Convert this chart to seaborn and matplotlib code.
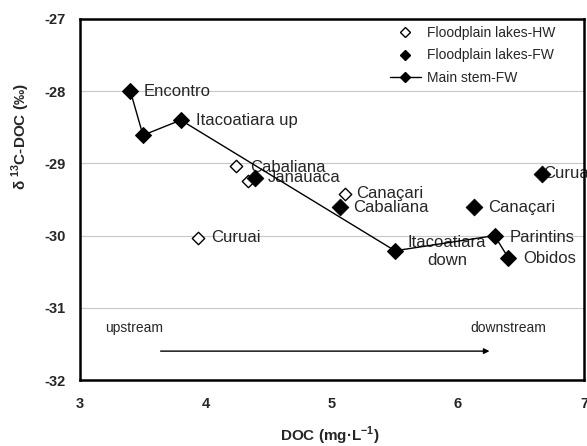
import matplotlib
matplotlib.use("Agg")
import matplotlib.pyplot as plt
from matplotlib.lines import Line2D
import seaborn as sns
import pandas as pd

# --- data ---
hw_names = ["Cabaliana", "Janauaca", "Canaçari", "Curuai"]
hw_doc = [4.24, 4.33, 5.10, 3.94]
hw_d13c = [-29.04, -29.24, -29.42, -30.03]

fw_names = ["Janauaca", "Cabaliana", "Canaçari", "Curuai"]
fw_doc = [4.39, 5.06, 6.13, 6.67]
fw_d13c = [-29.20, -29.61, -29.61, -29.14]

ms_names = ["Encontro", "", "Itacoatiara up", "Itacoatiara\ndown", "Parintins", "Obidos"]
ms_doc = [3.40, 3.50, 3.80, 5.50, 6.29, 6.40]
ms_d13c = [-28.00, -28.61, -28.40, -30.21, -30.00, -30.31]

# label offsets in pixels (dx, dy)
hw_off = [(14, -1), None, (12, 0), (13, 0)]
fw_off = [(13, 0), (14, 0), (14, 0), (1, 0)]
ms_off = [(13, 0), None, (15, 0), (52, -1), (15, -2), (15, -1)]

sns.set_style("white")
plt.rcParams['font.family'] = ['Liberation Sans', 'DejaVu Sans']
plt.rcParams['axes.unicode_minus'] = False
plt.rcParams['mathtext.fontset'] = 'custom'
plt.rcParams['mathtext.rm'] = 'Liberation Sans'
plt.rcParams['mathtext.bf'] = 'Liberation Sans:bold'

df_hw = pd.DataFrame({'doc': hw_doc, 'd13c': hw_d13c, 'name': hw_names})
df_fw = pd.DataFrame({'doc': fw_doc, 'd13c': fw_d13c, 'name': fw_names})
df_ms = pd.DataFrame({'doc': ms_doc, 'd13c': ms_d13c, 'name': ms_names})

fig = plt.figure(figsize=(5.87, 4.46), dpi=100)
ax = fig.add_axes([80 / 587, 1 - 380 / 446, 504 / 587, 361 / 446])

sns.lineplot(data=df_ms, x='doc', y='d13c', sort=False, estimator=None, ax=ax,
             color='black', linewidth=1.0, marker='D', markersize=8.6,
             markeredgecolor='black', markerfacecolor='black', zorder=4)
sns.scatterplot(data=df_hw, x='doc', y='d13c', ax=ax, marker='D', s=40,
                facecolor='white', edgecolor='black', linewidth=1.0, zorder=3)
sns.scatterplot(data=df_fw, x='doc', y='d13c', ax=ax, marker='D', s=74,
                color='black', edgecolor='black', linewidth=0.5, zorder=5)

# point labels sit under the markers, as in the original
for df, offs in [(df_hw, hw_off), (df_fw, fw_off), (df_ms, ms_off)]:
    for (_, r), off in zip(df.iterrows(), offs):
        if off is None or not r['name']:
            continue
        multi = '\n' in r['name']
        ax.annotate(r['name'], (r['doc'], r['d13c']), xytext=off,
                    textcoords='offset pixels', fontsize=12,
                    ha='center' if multi else 'left', va='center',
                    linespacing=1.25, zorder=2)

ax.text(3.2, -31.28, "upstream", fontsize=10, va='center', ha='left')
ax.text(6.1, -31.28, "downstream", fontsize=10, va='center', ha='left')
ax.annotate('', xy=(6.25, -31.6), xytext=(3.64, -31.6),
            arrowprops=dict(arrowstyle='-|>', color='black', lw=1.0,
                            mutation_scale=8, shrinkA=0, shrinkB=0))

ax.set_xlim(3, 7)
ax.set_ylim(-32, -27)
ax.set_xticks([3, 4, 5, 6, 7])
ax.set_yticks([-32, -31, -30, -29, -28, -27])
ax.yaxis.grid(True, color='#c8c8c8', linewidth=0.8)
ax.xaxis.grid(False)
ax.set_axisbelow(True)
for sp in ax.spines.values():
    sp.set_color('black')
    sp.set_linewidth(1.8)
ax.tick_params(direction='inout', length=7, width=1.5, labelsize=10.5, color='black')
ax.tick_params(axis='y', pad=7)
ax.tick_params(axis='x', pad=9)
for lab in ax.get_xticklabels() + ax.get_yticklabels():
    lab.set_fontweight('bold')

ax.set_xlabel('DOC (mg·L$^{\\mathbf{-1}}$)', fontsize=11, fontweight='bold')
ax.set_ylabel('δ $^{\\mathbf{13}}$C-DOC (‰)', fontsize=11, fontweight='bold')
ax.xaxis.set_label_coords(0.496, -0.125)
ax.yaxis.set_label_coords(-0.095, 0.673)

handles = [
    Line2D([], [], linestyle='none', marker='D', markersize=5.5,
           markerfacecolor='white', markeredgecolor='black'),
    Line2D([], [], linestyle='none', marker='D', markersize=5.5,
           markerfacecolor='black', markeredgecolor='black'),
    Line2D([], [], color='black', linewidth=1.0, marker='D', markersize=5.5,
           markerfacecolor='black', markeredgecolor='black'),
]
ax.legend(handles, ['Floodplain lakes-HW', 'Floodplain lakes-FW', 'Main stem-FW'],
          loc='upper left', bbox_to_anchor=(0.615, 0.981), bbox_transform=ax.transAxes,
          frameon=False, fontsize=10, borderpad=0, borderaxespad=0,
          handlelength=2.2, handletextpad=0.45, labelspacing=0.62)

fig.savefig('out.png', dpi=100)
